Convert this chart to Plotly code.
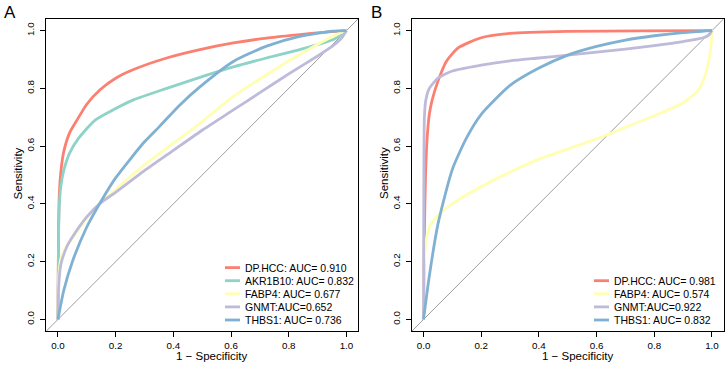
import plotly.graph_objects as go

W, H = 728, 370
AX_RANGE = [-0.04, 1.04]
TICKS = [0.0, 0.2, 0.4, 0.6, 0.8, 1.0]
FONT = "Liberation Sans, Arial, sans-serif"

COLORS = {
    "DP.HCC": "#FB8072",
    "AKR1B10": "#8DD3C7",
    "FABP4": "#FFFFB3",
    "GNMT": "#BEBADA",
    "THBS1": "#80B1D3",
}

# ---------------- Panel A ----------------
a_names = ["DP.HCC", "AKR1B10", "FABP4", "GNMT", "THBS1"]
a_labels = ["DP.HCC: AUC= 0.910", "AKR1B10: AUC= 0.832", "FABP4: AUC= 0.677",
            "GNMT:AUC=0.652", "THBS1: AUC= 0.736"]

a_dphcc_fpr = [0, 0.002, 0.005, 0.01, 0.02, 0.04, 0.066, 0.1, 0.146, 0.2, 0.262, 0.377, 0.492, 0.608, 0.723, 0.838, 0.92, 1.0]
a_dphcc_tpr = [0, 0.30, 0.44, 0.51, 0.58, 0.645, 0.69, 0.745, 0.795, 0.835, 0.865, 0.905, 0.934, 0.957, 0.974, 0.986, 0.994, 1.0]

a_akr_fpr = [0, 0.002, 0.005, 0.01, 0.02, 0.04, 0.07, 0.129, 0.2, 0.262, 0.377, 0.492, 0.608, 0.723, 0.838, 0.953, 0.99, 1.0]
a_akr_tpr = [0, 0.28, 0.40, 0.46, 0.515, 0.575, 0.625, 0.69, 0.73, 0.76, 0.80, 0.838, 0.874, 0.905, 0.934, 0.968, 0.99, 1.0]

a_fabp4_fpr = [0, 0.003, 0.01, 0.03, 0.05, 0.1, 0.15, 0.2, 0.3, 0.4, 0.481, 0.608, 0.723, 0.838, 0.953, 0.988, 1.0]
a_fabp4_tpr = [0, 0.15, 0.21, 0.255, 0.28, 0.35, 0.405, 0.45, 0.535, 0.61, 0.67, 0.772, 0.847, 0.917, 0.98, 0.996, 1.0]

a_gnmt_fpr = [0, 0.003, 0.01, 0.03, 0.05, 0.1, 0.15, 0.2, 0.3, 0.4, 0.5, 0.6, 0.7, 0.8, 0.9, 0.95, 0.983, 1.0]
a_gnmt_tpr = [0, 0.12, 0.19, 0.25, 0.285, 0.355, 0.405, 0.44, 0.515, 0.585, 0.655, 0.72, 0.785, 0.85, 0.912, 0.945, 0.974, 1.0]

a_thbs1_fpr = [0, 0.02, 0.05, 0.1, 0.15, 0.2, 0.3, 0.354, 0.42, 0.492, 0.608, 0.723, 0.838, 0.953, 1.0]
a_thbs1_tpr = [0, 0.10, 0.20, 0.32, 0.41, 0.49, 0.615, 0.67, 0.74, 0.805, 0.893, 0.946, 0.98, 0.998, 1.0]

# ---------------- Panel B ----------------
b_names = ["DP.HCC", "FABP4", "GNMT", "THBS1"]
b_labels = ["DP.HCC: AUC= 0.981", "FABP4: AUC= 0.574", "GNMT:AUC=0.922", "THBS1: AUC= 0.832"]

b_dphcc_fpr = [0, 0.003, 0.007, 0.012, 0.02, 0.03, 0.05, 0.08, 0.12, 0.2, 0.3, 0.5, 0.75, 1.0]
b_dphcc_tpr = [0, 0.30, 0.50, 0.62, 0.71, 0.76, 0.825, 0.895, 0.94, 0.975, 0.99, 0.997, 0.999, 1.0]

b_fabp4_fpr = [0, 0.003, 0.01, 0.02, 0.05, 0.1, 0.2, 0.3, 0.4, 0.5, 0.6, 0.7, 0.8, 0.9, 0.95, 0.975, 0.99, 0.998, 1.0]
b_fabp4_tpr = [0, 0.20, 0.28, 0.32, 0.36, 0.40, 0.46, 0.51, 0.555, 0.59, 0.625, 0.665, 0.705, 0.75, 0.79, 0.84, 0.90, 0.96, 1.0]

b_gnmt_fpr = [0, 0.001, 0.003, 0.008, 0.02, 0.05, 0.1, 0.2, 0.3, 0.4, 0.5, 0.6, 0.7, 0.8, 0.9, 0.97, 0.99, 1.0]
b_gnmt_tpr = [0, 0.45, 0.70, 0.76, 0.80, 0.835, 0.86, 0.88, 0.895, 0.905, 0.915, 0.925, 0.936, 0.948, 0.962, 0.975, 0.985, 1.0]

b_thbs1_fpr = [0, 0.02, 0.05, 0.1, 0.15, 0.2, 0.3, 0.4, 0.5, 0.6, 0.7, 0.8, 0.9, 1.0]
b_thbs1_tpr = [0, 0.15, 0.33, 0.52, 0.63, 0.71, 0.81, 0.87, 0.915, 0.945, 0.967, 0.982, 0.993, 1.0]

a_series = [(a_dphcc_fpr, a_dphcc_tpr), (a_akr_fpr, a_akr_tpr), (a_fabp4_fpr, a_fabp4_tpr),
            (a_gnmt_fpr, a_gnmt_tpr), (a_thbs1_fpr, a_thbs1_tpr)]
b_series = [(b_dphcc_fpr, b_dphcc_tpr), (b_fabp4_fpr, b_fabp4_tpr),
            (b_gnmt_fpr, b_gnmt_tpr), (b_thbs1_fpr, b_thbs1_tpr)]


def px_x(p):
    return p / W


def px_y(p):
    return 1 - p / H


# panel geometry (pixels)
A_LEFT, A_RIGHT = 46.4, 358.0
B_LEFT, B_RIGHT = 412.0, 723.5
TOP, BOTTOM = 19.0, 331.0

fig = go.Figure()

panels = [
    ("x", "y", a_names, a_labels, a_series, A_LEFT, A_RIGHT, "A"),
    ("x2", "y2", b_names, b_labels, b_series, B_LEFT, B_RIGHT, "B"),
]

shapes = []
annotations = []

for xa, ya, names, labels, series, left, right, tag in panels:
    # reference diagonal across the whole plotting region
    fig.add_trace(go.Scatter(x=AX_RANGE, y=AX_RANGE, mode="lines", xaxis=xa, yaxis=ya,
                             line=dict(color="#9E9E9E", width=1), showlegend=False,
                             hoverinfo="skip"))
    for name, (fx, ty) in zip(names, series):
        fig.add_trace(go.Scatter(x=fx, y=ty, mode="lines", name=name, xaxis=xa, yaxis=ya,
                                 line=dict(color=COLORS[name], width=2.8, shape="spline",
                                           smoothing=0.6),
                                 showlegend=False))
    # manual legend (bottom-right)
    n = len(names)
    row_h = 13.1
    last_row = 320.0
    text_x = right - (115.0 if tag == "A" else 111.5)
    for i, (name, lab) in enumerate(zip(names, labels)):
        yc = last_row - (n - 1 - i) * row_h
        shapes.append(dict(type="line", xref="paper", yref="paper",
                           x0=px_x(text_x - 18), x1=px_x(text_x - 3),
                           y0=px_y(yc), y1=px_y(yc),
                           line=dict(color=COLORS[name], width=2.8)))
        annotations.append(dict(x=px_x(text_x), y=px_y(yc), xref="paper", yref="paper",
                                text=lab, showarrow=False, xanchor="left", yanchor="middle",
                                font=dict(family=FONT, size=10.5, color="black")))
    # axis titles
    annotations.append(dict(x=px_x((left + right) / 2 + 10), y=px_y(356), xref="paper",
                            yref="paper", text="1 \u2212 Specificity", showarrow=False,
                            xanchor="center", yanchor="middle",
                            font=dict(family=FONT, size=11.5, color="black")))
    annotations.append(dict(x=px_x(left - 28), y=px_y(173), xref="paper",
                            yref="paper", text="Sensitivity", showarrow=False, textangle=-90,
                            xanchor="center", yanchor="middle",
                            font=dict(family=FONT, size=11.5, color="black")))
    # panel tag
    annotations.append(dict(x=px_x(left - 36), y=px_y(13), xref="paper", yref="paper",
                            text=tag, showarrow=False, xanchor="center", yanchor="middle",
                            font=dict(family=FONT, size=17, color="black")))

axis_common = dict(range=AX_RANGE, tickvals=TICKS, tickformat=".1f", ticks="outside",
                   ticklen=5, tickwidth=1, tickcolor="black", showline=True, mirror=True,
                   linecolor="black", linewidth=1, showgrid=False, zeroline=False,
                   tickfont=dict(family=FONT, size=9.8, color="black"))

ydom = [px_y(BOTTOM), px_y(TOP)]
fig.update_layout(
    width=W, height=H, margin=dict(l=0, r=0, t=0, b=0),
    paper_bgcolor="white", plot_bgcolor="white",
    xaxis=dict(domain=[px_x(A_LEFT), px_x(A_RIGHT)], anchor="y", **axis_common),
    yaxis=dict(domain=ydom, anchor="x", tickangle=-90, ticklabelstandoff=2, **axis_common),
    xaxis2=dict(domain=[px_x(B_LEFT), px_x(B_RIGHT)], anchor="y2", **axis_common),
    yaxis2=dict(domain=ydom, anchor="x2", tickangle=-90, ticklabelstandoff=2, **axis_common),
    shapes=shapes, annotations=annotations, showlegend=False,
)

# remove the browser's default page margin so the figure sits at the window origin
fig.write_html("out.html", config={"displayModeBar": False},
               post_script="document.body.style.margin='0px';")
